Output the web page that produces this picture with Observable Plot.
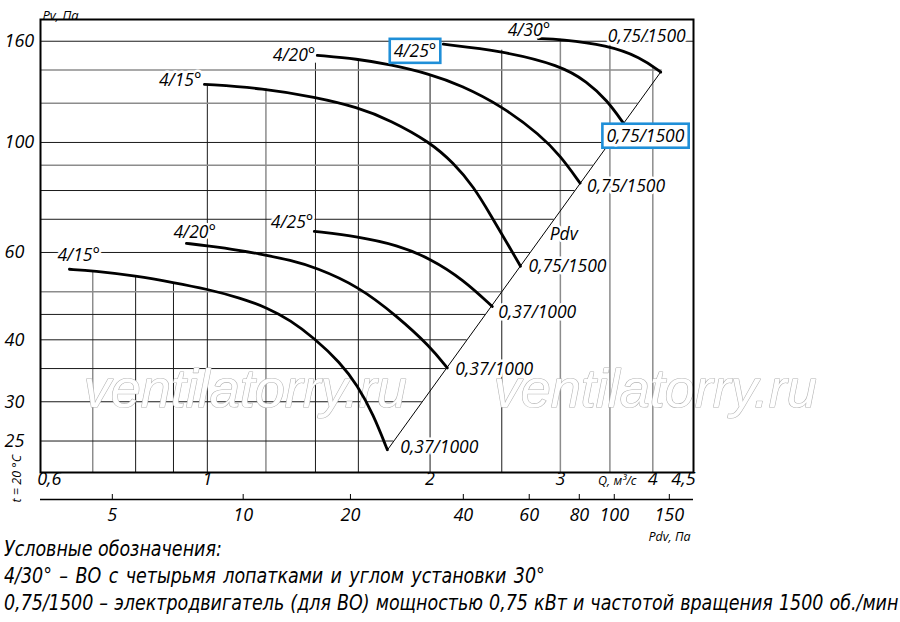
<!DOCTYPE html>
<html><head><meta charset="utf-8">
<script src="https://cdn.jsdelivr.net/npm/d3@7"></script>
<script src="https://cdn.jsdelivr.net/npm/@observablehq/plot@0.6"></script>
<style>
body{margin:0;background:#fff;width:900px;height:622px;position:relative;overflow:hidden}
#chart{position:absolute;left:0;top:0}
#legend{position:absolute;left:4px;top:536px;font-family:"DejaVu Sans Condensed","Liberation Sans Narrow",sans-serif;font-style:italic;font-size:21px;line-height:27px;color:#000;white-space:nowrap;transform-origin:0 0;transform:scaleX(0.925)}
#legend div{display:block}
#legend div:nth-child(2){word-spacing:2px}
#legend div:nth-child(3){word-spacing:0.6px}
</style></head><body>
<div id="chart"></div>
<div id="legend"></div>
<script>
// ---------- axes / ticks ----------
const yTicks = [160, 100, 60, 40, 30, 25];
const yTickLabels = ["160", "100", "60", "40", "30", "25"];
const qTicks = [0.6, 1, 2, 3, 4, 4.5];
const qTickLabels = ["0,6", "1", "2", "3", "4", "4,5"];
const pdvTickLabels = ["5", "10", "20", "40", "60", "80", "100", "150"];
const pdvTickQ = [0.744, 1.118, 1.561, 2.218, 2.723, 3.182, 3.548, 4.211];
const hGridPv = [160, 140, 120, 100, 90, 80, 70, 60, 50, 45, 40, 35, 30, 25];
const vGridQ = [0.7, 0.8, 0.9, 1, 1.2, 1.4, 1.6, 2, 2.5, 3, 3.5, 4];
const vGridTopPv = [55.0, 53.7, 52.0, 130.9, 128.4, 144.5, 147, 136.7, 153.5, 161.5, 157.1, 142.5];

// ---------- curves (Q m3/s, Pv Pa) ----------
const curveNames = ["4/15°", "4/20°", "4/25°", "4/30°", "4/15°", "4/20°", "4/25°"];
const motorNames = ["0,75/1500", "0,75/1500", "0,75/1500", "0,75/1500", "0,37/1000", "0,37/1000", "0,37/1000"];
const q15_075 = [0.991, 1.19, 1.40, 1.595, 1.767, 2.0, 2.15, 2.29, 2.42, 2.54, 2.65];
const pv15_075 = [131.0, 128.6, 123.4, 117.8, 110.9, 100.1, 91.0, 81.5, 71.0, 62.8, 56.3];
const q20_075 = [1.408, 1.595, 1.767, 2.0, 2.20, 2.50, 2.82, 3.0, 3.19];
const pv20_075 = [149.9, 147.4, 143.6, 137.4, 130.5, 118.5, 103.4, 94.0, 82.8];
const q25_075 = [2.084, 2.50, 3.0, 3.26, 3.47, 3.65];
const pv25_075 = [157.8, 153.0, 143.1, 132.6, 121.6, 109.4];
const q30_075 = [2.80, 3.0, 3.47, 3.85, 4.10];
const pv30_075 = [162.0, 161.4, 157.1, 148.5, 138.6];
const q15_037 = [0.651, 0.701, 0.802, 0.900, 1.0, 1.108, 1.205, 1.295, 1.395, 1.512, 1.595, 1.676, 1.751];
const pv15_037 = [55.5, 55.1, 53.8, 52.2, 50.6, 48.6, 46.4, 43.8, 40.3, 36.0, 32.4, 28.3, 24.0];
const q20_037 = [0.937, 1.0, 1.108, 1.19, 1.295, 1.40, 1.60, 1.806, 2.0, 2.11];
const pv20_037 = [62.6, 61.9, 60.6, 59.4, 57.9, 56.0, 51.3, 44.6, 38.8, 35.1];
const q25_037 = [1.395, 1.60, 1.806, 2.0, 2.218, 2.427];
const pv25_037 = [66.2, 64.6, 62.1, 58.4, 52.9, 46.7];

// dynamic pressure line (Pdv)
const pdvLineQ = [1.751, 4.107];
const pdvLinePv = [23.97, 139.2];

// texts
const legendLines = [
  "Условные обозначения:",
  "4/30° – ВО с четырьмя лопатками и углом установки 30°",
  "0,75/1500 – электродвигатель (для ВО) мощностью 0,75 кВт и частотой вращения 1500 об./мин"
];
const watermarkText = "ventilatorry.ru";

// ---------- build tables ----------
const xMin = 0.595, xMax = 4.54, yMin = 21.6, yMax = 177;
const seriesQ = [q15_075, q20_075, q25_075, q30_075, q15_037, q20_037, q25_037];
const seriesPv = [pv15_075, pv20_075, pv25_075, pv30_075, pv15_037, pv20_037, pv25_037];
const curves = seriesQ.flatMap((qs, id) => qs.map((q, j) => ({id, q, pv: seriesPv[id][j]})));
const starts = seriesQ.map((qs, id) => ({id, q: qs[0], pv: seriesPv[id][0], name: curveNames[id]}));
const ends = seriesQ.map((qs, id) => ({id, q: qs[qs.length - 1], pv: seriesPv[id][qs.length - 1], name: motorNames[id]}));

const kExp = Math.log(pdvLinePv[1] / pdvLinePv[0]) / Math.log(pdvLineQ[1] / pdvLineQ[0]);
const diagQ = pv => pv > pdvLinePv[1] + 5 ? xMax : pdvLineQ[0] * Math.pow(pv / pdvLinePv[0], 1 / kExp);
const diagTable = pdvLineQ.map((q, i) => ({q, pv: pdvLinePv[i]}));
const pdvLabelPv = 65.4;
const pdvLabelPos = [{q: diagQ(pdvLabelPv), pv: pdvLabelPv}];

const grayV = new Set([0.7, 1.2, 3, 3.5, 4]);
const grayH = new Set([140, 120, 90, 50]);
const hGrid = hGridPv.map(pv => ({pv, q2: diagQ(pv), gray: grayH.has(pv)}));
const vGrid = vGridQ.map((q, i) => ({q, top: vGridTopPv[i], gray: grayV.has(q)}));

// label layout (styling only)
const startLayout = [
  {dx: -3, dy: -4, a: "end"},
  {dx: -2, dy: 0, a: "end"},
  {dx: -7, dy: 7, a: "end", box: true},
  {dx: 12, dy: -8, a: "end"},
  {dx: -12, dy: -14, a: "start"},
  {dx: -13, dy: -11, a: "start"},
  {dx: -1, dy: -9, a: "end"}
];
const endLayout = [
  {dx: 8, dy: 0, a: "start"},
  {dx: 7, dy: 3, a: "start"},
  {dx: -17, dy: 13, a: "start", box: true},
  {dx: -53, dy: -36, a: "start"},
  {dx: 13, dy: -2, a: "start"},
  {dx: 8, dy: 1, a: "start"},
  {dx: 6, dy: 6, a: "start"}
];
const labelFont = 17.5;
const halo = {stroke: "white", strokeWidth: 5, fill: "black"};

const labelMarks = [];
starts.forEach((s, i) => {
  const L = startLayout[i];
  labelMarks.push(Plot.text([s], {x: "q", y: "pv", text: "name", dx: L.dx, dy: L.dy, textAnchor: L.a,
    fontSize: labelFont, ...halo, ariaLabel: () => (L.box ? "boxed" : "label")}));
});
ends.forEach((s, i) => {
  const L = endLayout[i];
  labelMarks.push(Plot.text([s], {x: "q", y: "pv", text: "name", dx: L.dx, dy: L.dy, textAnchor: L.a,
    fontSize: labelFont, ...halo, ariaLabel: () => (L.box ? "boxed" : "label")}));
});

const pdvLabelMap = new Map(pdvTickQ.map((q, i) => [q, pdvTickLabels[i]]));
const qIdx = qTicks.map((d, i) => i);
const watermarks = [{q: 1.125, pv: 31.7}, {q: 4.03, pv: 31.7}];

const plot = Plot.plot({
  width: 900, height: 545,
  marginLeft: 40, marginRight: 207, marginTop: 19, marginBottom: 73,
  x: {type: "log", domain: [xMin, xMax], axis: null},
  y: {type: "log", domain: [yMin, yMax], axis: null},
  style: {fontFamily: '"Open Sans", "DejaVu Sans", sans-serif', fontStyle: "italic", fontSize: "18px", background: "white", overflow: "visible", color: "black"},
  marks: [
    Plot.ruleX(vGrid.filter(d => d.gray), {x: "q", y1: yMin, y2: "top", stroke: "#8c8c8c", strokeWidth: 1.5}),
    Plot.ruleX(vGrid.filter(d => !d.gray), {x: "q", y1: yMin, y2: "top", stroke: "#1a1a1a", strokeWidth: 1}),
    Plot.ruleY(hGrid.filter(d => d.gray), {y: "pv", x1: xMin, x2: "q2", stroke: "#8c8c8c", strokeWidth: 1.5}),
    Plot.ruleY(hGrid.filter(d => !d.gray), {y: "pv", x1: xMin, x2: "q2", stroke: "#1a1a1a", strokeWidth: 1}),
    Plot.text(watermarks, {x: "q", y: "pv", text: () => watermarkText, fontSize: 54, fontFamily: '"Liberation Sans", Arial, sans-serif',
      fill: "white", stroke: "#b3b3b3", strokeWidth: 1.2, fontStyle: "italic"}),
    Plot.line(diagTable, {x: "q", y: "pv", stroke: "black", strokeWidth: 1}),
    Plot.line(curves, {x: "q", y: "pv", z: "id", curve: "basis", stroke: "black", strokeWidth: 2.8}),
    ...labelMarks,
    Plot.text(pdvLabelPos, {x: "q", y: "pv", text: () => "Pdv", dx: 6, textAnchor: "start", fontSize: labelFont, ...halo}),
    // left Pv labels
    Plot.text(yTicks, {y: d => d, text: (d, i) => yTickLabels[i], frameAnchor: "left", dx: -36, textAnchor: "start", fontSize: 18}),
    // Q labels
    Plot.text(qIdx.slice(1, -1), {x: i => qTicks[i], text: i => qTickLabels[i], frameAnchor: "bottom", dy: 12, fontSize: 18}),
    Plot.text([0], {x: i => qTicks[i], text: i => qTickLabels[i], frameAnchor: "bottom", dy: 12, dx: -6, textAnchor: "start", fontSize: 18}),
    Plot.text([qTicks.length - 1], {x: i => qTicks[i], text: i => qTickLabels[i], frameAnchor: "bottom", dy: 12, dx: 5, textAnchor: "end", fontSize: 18}),
    Plot.text(["Q, м³/с"], {frameAnchor: "bottom-right", dx: -57, dy: 12, textAnchor: "end", fontSize: 12.5}),
    Plot.text(["Pv, Па"], {frameAnchor: "top-left", dx: 2, dy: -9, textAnchor: "start", fontSize: 13}),
    Plot.text(["Pdv, Па"], {frameAnchor: "bottom-right", dx: -3, dy: 68, textAnchor: "end", fontSize: 12.5}),
    Plot.text(["t = 20 °C"], {frameAnchor: "bottom-left", dx: -20, dy: 30, rotate: -90, fontSize: 12.5}),
    // Pdv secondary axis
    Plot.ruleY([yMin], {dy: 27, stroke: "black", strokeWidth: 1.5}),
    Plot.axisX(pdvTickQ, {anchor: "bottom", dy: 22, tickSize: 5, tickPadding: 9, tickFormat: d => pdvLabelMap.get(d), fontSize: 18, stroke: "black"}),
    Plot.frame({stroke: "black", strokeWidth: 2})
  ]
});
document.getElementById("chart").appendChild(plot);

// blue boxes around highlighted labels
const svgRect = plot.getBoundingClientRect();
plot.querySelectorAll('text[aria-label="boxed"]').forEach(t => {
  const b = t.getBoundingClientRect();
  const r = document.createElementNS("http://www.w3.org/2000/svg", "rect");
  r.setAttribute("x", b.left - svgRect.left - 4);
  r.setAttribute("y", b.top - svgRect.top + 1);
  r.setAttribute("width", b.width + 8);
  r.setAttribute("height", b.height);
  r.setAttribute("fill", "white");
  r.setAttribute("stroke", "#1f8fd8");
  r.setAttribute("stroke-width", 2.6);
  const g = t.parentNode;
  g.parentNode.insertBefore(r, g);
});

const leg = document.getElementById("legend");
legendLines.forEach(s => { const d = document.createElement("div"); d.textContent = s; leg.appendChild(d); });
</script>
</body></html>
